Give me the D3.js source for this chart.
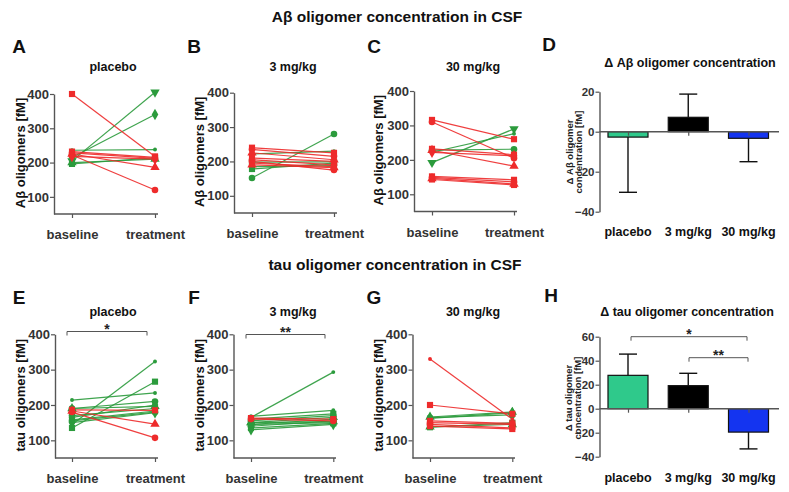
<!DOCTYPE html>
<html><head><meta charset="utf-8">
<script src="https://cdn.jsdelivr.net/npm/d3@7"></script>
<style>
body{margin:0;background:#fff}
svg{display:block;font-family:"Liberation Sans",Arial,sans-serif}
</style>
</head><body>
<svg id="c" width="789" height="492"></svg>
<script>
// ---------- DATA ----------
const timepoints = ["baseline", "treatment"];
const spaghettiTicks = [100, 200, 300, 400];

// Panel A: Aβ, placebo
const abPlaceboBase   = [400, 205, 215, 236, 225, 222, 232, 228, 218, 196, 200];
const abPlaceboTreat  = [218, 405, 340, 238, 186, 120, 215, 212, 210, 214, 210];
const abPlaceboMarker = ["sq","td","di","dot","tu","ci","sq","ci","di","sq","tu"];

// Panel B: Aβ, 3 mg/kg
const ab3Base   = [152, 240, 235, 225, 222, 210, 205, 198, 190, 185, 178, 200, 195];
const ab3Treat  = [280, 225, 215, 205, 230, 200, 190, 199, 182, 188, 195, 175, 185];
const ab3Marker = ["ci","sq","ci","tu","dot","sq","ci","sq","tu","di","sq","ci","sq"];

// Panel C: Aβ, 30 mg/kg
const ab30Base   = [316, 310, 232, 228, 222, 192, 222, 228, 152, 149, 146, 143];
const ab30Treat  = [260, 205, 215, 182, 212, 290, 276, 231, 142, 136, 130, 127];
const ab30Marker = ["sq","ci","sq","tu","di","td","dot","ci","sq","ci","tu","sq"];

// Panel E: tau, placebo
const tauPlaceboBase   = [145, 135, 214, 190, 165, 190, 158, 155, 183, 180, 186, 170, 150];
const tauPlaceboTreat  = [323, 266, 234, 210, 200, 196, 183, 180, 146, 107, 185, 190, 178];
const tauPlaceboMarker = ["dot","sq","dot","ci","di","tu","sq","ci","tu","ci","sq","ci","di"];

// Panel F: tau, 3 mg/kg
const tau3Base   = [165, 168, 160, 155, 150, 145, 140, 135, 130, 163, 160, 150, 145];
const tau3Treat  = [293, 185, 175, 170, 165, 160, 155, 148, 145, 160, 155, 153, 150];
const tau3Marker = ["dot","dot","sq","ci","tu","sq","ci","sq","di","sq","ci","tu","sq"];

// Panel G: tau, 30 mg/kg
const tau30Base   = [330, 200, 166, 164, 162, 155, 150, 145, 140, 138, 137];
const tau30Treat  = [160, 175, 180, 172, 178, 148, 145, 135, 132, 145, 150];
const tau30Marker = ["dot","sq","tu","ci","di","sq","ci","ci","sq","tu","sq"];

// Bar panels
const barCategories = ["placebo", "3 mg/kg", "30 mg/kg"];
const barColors = ["#2fc98b", "#000000", "#1434f0"];
const abDeltaMean = [-2.7, 7.2, -3.3];
const abDeltaErrEnd = [-30.3, 18.8, -15];
const abDeltaTicks = [-40, -20, 0, 20];
const tauDeltaMean = [27.8, 19.2, -19.5];
const tauDeltaErrEnd = [45.5, 29.5, -33.5];
const tauDeltaTicks = [-40, -20, 0, 20, 40, 60];

// ---------- DRAWING ----------
const svg = d3.select("#c");
const RED = "#ee2b2b", GREEN = "#2b9b3c", TXT = "#333", AX = "#555";

function text(x, y, s, size, opts = {}) {
  return svg.append("text").attr("x", x).attr("y", y)
    .attr("text-anchor", opts.anchor || "middle")
    .attr("dominant-baseline", "central")
    .attr("font-weight", "bold").attr("font-size", size)
    .attr("fill", opts.fill || "#111").text(s);
}

function symbolFor(m) {
  switch (m) {
    case "sq": return d3.symbol(d3.symbolSquare, 38)();
    case "ci": return d3.symbol(d3.symbolCircle, 34)();
    case "tu": return d3.symbol(d3.symbolTriangle, 38)();
    case "td": return d3.symbol(d3.symbolTriangle, 38)();
    case "di": return d3.symbol(d3.symbolDiamond, 38)();
    default:   return d3.symbol(d3.symbolCircle, 12)();
  }
}

function styleAxis(g) {
  g.selectAll("path.domain").attr("stroke", AX).attr("stroke-width", 1.4);
  g.selectAll(".tick line").attr("stroke", AX).attr("stroke-width", 1.2);
  g.selectAll(".tick text").attr("font-family", "Liberation Sans, Arial, sans-serif")
    .attr("font-weight", "bold").attr("fill", TXT);
}

function spaghetti(cfg, base, treat, marks) {
  const g = svg.append("g");
  const x = d3.scalePoint().domain(timepoints).range([cfg.xb, cfg.xt]);
  const y = d3.scaleLinear().domain([50, 400]).range([cfg.yb, cfg.yt]);

  const ya = g.append("g").attr("transform", `translate(${cfg.ax},0)`)
    .call(d3.axisLeft(y).tickValues(spaghettiTicks).tickSize(4).tickSizeOuter(0).tickPadding(1));
  ya.selectAll(".tick text").attr("font-size", 13);
  styleAxis(ya);

  const xa = g.append("g").attr("transform", `translate(0,${cfg.yb})`)
    .call(d3.axisBottom(x).tickSize(4).tickSizeOuter(0).tickPadding(12));
  xa.select("path.domain").remove();
  xa.selectAll(".tick text").attr("font-size", 13);
  styleAxis(xa);
  g.append("line").attr("x1", cfg.ax).attr("x2", cfg.xe)
    .attr("y1", cfg.yb).attr("y2", cfg.yb).attr("stroke", AX).attr("stroke-width", 1.4);

  const data = base.map((b, i) => ({ b, t: treat[i], m: marks[i], c: treat[i] > b ? GREEN : RED }));
  data.sort((a, b) => (a.c === RED ? 1 : 0) - (b.c === RED ? 1 : 0));
  data.forEach(d => {
    g.append("line").attr("x1", x("baseline")).attr("y1", y(d.b))
      .attr("x2", x("treatment")).attr("y2", y(d.t))
      .attr("stroke", d.c).attr("stroke-width", 1.2).attr("opacity", 0.9);
  });
  data.forEach(d => {
    [["baseline", d.b], ["treatment", d.t]].forEach(([k, v]) => {
      g.append("path").attr("d", symbolFor(d.m))
        .attr("transform", `translate(${x(k)},${y(v)})` + (d.m === "td" ? " rotate(180)" : ""))
        .attr("fill", d.c);
    });
  });

  text(cfg.title[0], cfg.title[1], cfg.title[2], 12.5);
  svg.append("text").attr("transform", `translate(${cfg.ylab[0]},${(cfg.yb + cfg.yt) / 2 - 1}) rotate(-90)`)
    .attr("text-anchor", "middle").attr("dominant-baseline", "central")
    .attr("font-weight", "bold").attr("font-size", 13).attr("fill", "#111").text(cfg.ylab[1]);
}

function bracket(x1, x2, y, stars) {
  svg.append("path").attr("d", `M${x1},${y + 4}V${y}H${x2}V${y + 4}`)
    .attr("fill", "none").attr("stroke", AX).attr("stroke-width", 1);
  text((x1 + x2) / 2, y - 3, stars, 14, { fill: "#222" });
}

function barPanel(cfg, means, errEnds, ticks) {
  const g = svg.append("g");
  const x = d3.scalePoint().domain(barCategories).range([cfg.x0, cfg.x1]);
  const y = d3.scaleLinear().domain(cfg.domain).range([cfg.yb, cfg.yt]);

  const ya = g.append("g").attr("transform", `translate(${cfg.ax},0)`)
    .call(d3.axisLeft(y).tickValues(ticks).tickSize(4).tickSizeOuter(0).tickPadding(1));
  ya.selectAll(".tick text").attr("font-size", 11.5);
  styleAxis(ya);

  const bw = 40;
  barCategories.forEach((c, i) => {
    const v = means[i];
    g.append("rect").attr("x", x(c) - bw / 2).attr("width", bw)
      .attr("y", Math.min(y(v), y(0))).attr("height", Math.abs(y(v) - y(0)))
      .attr("fill", barColors[i]).attr("stroke", "#111").attr("stroke-width", 1.2);
    g.append("line").attr("x1", x(c)).attr("x2", x(c)).attr("y1", y(v)).attr("y2", y(errEnds[i]))
      .attr("stroke", "#111").attr("stroke-width", 1.4);
    g.append("line").attr("x1", x(c) - 9).attr("x2", x(c) + 9)
      .attr("y1", y(errEnds[i])).attr("y2", y(errEnds[i]))
      .attr("stroke", "#111").attr("stroke-width", 1.4);
  });

  const xa = g.append("g").attr("transform", `translate(0,${y(0)})`)
    .call(d3.axisBottom(x).tickSize(4).tickSizeOuter(0).tickFormat(""));
  xa.select("path.domain").remove();
  styleAxis(xa);
  g.append("line").attr("x1", cfg.ax).attr("x2", cfg.xe).attr("y1", y(0)).attr("y2", y(0))
    .attr("stroke", AX).attr("stroke-width", 1.4);

  barCategories.forEach(c => text(x(c), cfg.labY, c, 12.5));
  text(cfg.title[0], cfg.title[1], cfg.title[2], 12.5);
  const yl = svg.append("text")
    .attr("transform", `translate(${cfg.ylab[0]},${cfg.ylab[1]}) rotate(-90)`)
    .attr("text-anchor", "middle").attr("font-weight", "bold").attr("font-size", 9.5).attr("fill", "#222");
  yl.append("tspan").attr("x", 0).attr("y", -4.5).attr("dominant-baseline", "central").text(cfg.ylab[2]);
  yl.append("tspan").attr("x", 0).attr("y", 4.5).attr("dominant-baseline", "central").text("concentration [fM]");
}

// Main titles
text(397, 16, "Aβ oligomer concentration in CSF", 15.5);
text(395, 264, "tau oligomer concentration in CSF", 15.5);

// Panel letters
[["A", 19, 46], ["B", 194, 46], ["C", 374, 46], ["D", 549, 44],
 ["E", 19, 297], ["F", 194, 297], ["G", 374, 297], ["H", 551, 295]]
  .forEach(([s, x, y]) => text(x, y, s, 19));

const ylabAb = "Aβ oligomers [fM]", ylabTau = "tau oligomers [fM]";
spaghetti({ ax: 54, xb: 72, xt: 155, xe: 158, yb: 214, yt: 94, title: [113, 67, "placebo"], ylab: [20, ylabAb] },
  abPlaceboBase, abPlaceboTreat, abPlaceboMarker);
spaghetti({ ax: 234, xb: 252, xt: 334, xe: 337, yb: 213, yt: 92.7, title: [293, 67, "3 mg/kg"], ylab: [199, ylabAb] },
  ab3Base, ab3Treat, ab3Marker);
spaghetti({ ax: 414, xb: 432, xt: 514, xe: 517, yb: 211.5, yt: 91, title: [473, 67, "30 mg/kg"], ylab: [378, ylabAb] },
  ab30Base, ab30Treat, ab30Marker);
spaghetti({ ax: 55, xb: 72, xt: 155, xe: 158, yb: 458, yt: 334.3, title: [113, 312, "placebo"], ylab: [20, ylabTau] },
  tauPlaceboBase, tauPlaceboTreat, tauPlaceboMarker);
spaghetti({ ax: 233.5, xb: 251, xt: 333.3, xe: 336, yb: 458, yt: 334.3, title: [293, 312, "3 mg/kg"], ylab: [199, ylabTau] },
  tau3Base, tau3Treat, tau3Marker);
spaghetti({ ax: 412.5, xb: 430, xt: 512.3, xe: 515, yb: 458, yt: 334.3, title: [473, 312, "30 mg/kg"], ylab: [378, ylabTau] },
  tau30Base, tau30Treat, tau30Marker);

barPanel({ ax: 599.5, x0: 628, x1: 748.5, xe: 779, domain: [-40, 20], yb: 211.7, yt: 91.7, labY: 232,
  title: [690, 63, "Δ Aβ oligomer concentration"], ylab: [573.5, 152, "Δ Aβ oligomer"] },
  abDeltaMean, abDeltaErrEnd, abDeltaTicks);
barPanel({ ax: 599.5, x0: 628, x1: 748.5, xe: 779, domain: [-40, 60], yb: 456.7, yt: 336.7, labY: 478,
  title: [687, 312, "Δ tau oligomer concentration"], ylab: [573, 398, "Δ tau oligomer"] },
  tauDeltaMean, tauDeltaErrEnd, tauDeltaTicks);

// Significance brackets
bracket(67, 147, 331.5, "*");
bracket(246, 325, 334.5, "**");
bracket(631, 747, 336.7, "*");
bracket(689, 748, 357.7, "**");
</script>
</body></html>
